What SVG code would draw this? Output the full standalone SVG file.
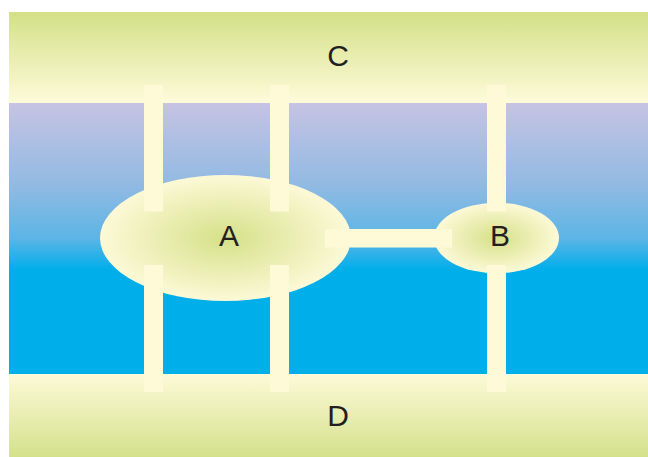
<svg xmlns="http://www.w3.org/2000/svg" width="648" height="457" viewBox="0 0 648 457">
  <defs>
    <linearGradient id="gTop" x1="0" y1="0" x2="0" y2="1">
      <stop offset="0" stop-color="#d3e087"/>
      <stop offset="1" stop-color="#fefbda"/>
    </linearGradient>
    <linearGradient id="gBot" x1="0" y1="0" x2="0" y2="1">
      <stop offset="0" stop-color="#fdfad8"/>
      <stop offset="1" stop-color="#d4e18b"/>
    </linearGradient>
    <linearGradient id="gMid" x1="0" y1="0" x2="0" y2="1">
      <stop offset="0" stop-color="#c6c3e3"/>
      <stop offset="0.3" stop-color="#92bae3"/>
      <stop offset="0.5" stop-color="#5cb5e6"/>
      <stop offset="0.616" stop-color="#00aeea"/>
      <stop offset="1" stop-color="#00aeea"/>
    </linearGradient>
    <radialGradient id="gEll" cx="0.5" cy="0.5" r="0.5">
      <stop offset="0" stop-color="#d5e189"/>
      <stop offset="1" stop-color="#fdf9d7"/>
    </radialGradient>
    <style>
      .bar { fill: #fefad8; }
      .lbl { font-family: "Liberation Sans", Arial, sans-serif; font-size: 30px; fill: #231f20; text-anchor: middle; }
    </style>
  </defs>
  <rect x="0" y="0" width="648" height="457" fill="#ffffff"/>
  <g id="C">
    <rect x="9" y="12" width="639" height="91" fill="url(#gTop)"/>
  </g>
  <g id="middle">
    <rect x="9" y="103" width="639" height="271" fill="url(#gMid)"/>
  </g>
  <g id="D">
    <rect x="9" y="374" width="639" height="83" fill="url(#gBot)"/>
  </g>
  <g id="A">
    <ellipse cx="225.5" cy="238" rx="125.5" ry="63" fill="url(#gEll)"/>
  </g>
  <g id="B">
    <ellipse cx="496.5" cy="238" rx="62.5" ry="35.3" fill="url(#gEll)"/>
  </g>
  <g id="connectors">
    <rect class="bar" x="144" y="85" width="19" height="126.5"/>
    <rect class="bar" x="270" y="85" width="19" height="126.5"/>
    <rect class="bar" x="487" y="85" width="19" height="126.5"/>
    <rect class="bar" x="144" y="265" width="19" height="127"/>
    <rect class="bar" x="270" y="265" width="19" height="127"/>
    <rect class="bar" x="487" y="265" width="19" height="127"/>
    <rect class="bar" x="325" y="229" width="127" height="18.5"/>
  </g>
  <g id="labels">
    <text class="lbl" x="338" y="65.5">C</text>
    <text class="lbl" x="229" y="246">A</text>
    <text class="lbl" x="500" y="245.5">B</text>
    <text class="lbl" x="338" y="425.5">D</text>
  </g>
</svg>
